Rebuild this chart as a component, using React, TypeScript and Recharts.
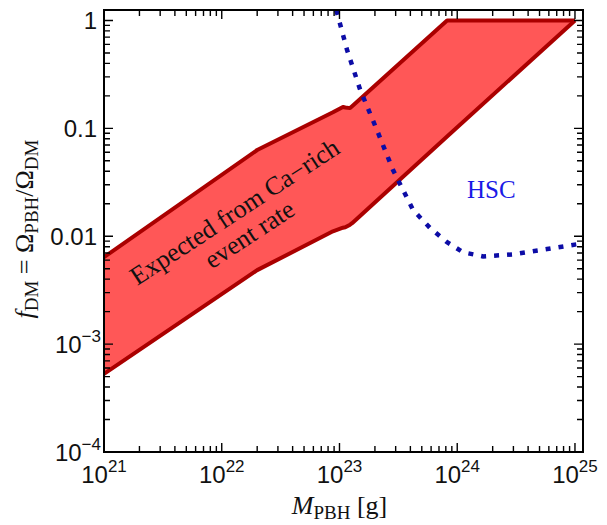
import { ComposedChart, Area, Line, Scatter, XAxis, YAxis } from 'recharts';

// expected band from the Ca-rich event rate (upper / lower edge per mass)
const bandMass = [1e21, 2.0e22, 8.8e22, 1.07e23, 1.12e23, 1.23e23, 1.28e23, 8.2e23, 1e25];
const bandUpper = [0.0064, 0.063, 0.141, 0.158, 0.156, 0.154, 0.16, 1, 1];
const bandLower = [5.3e-4, 4.85e-3, 0.0111, 0.012, 0.0121, 0.0128, 0.0132, 0.084, 1];

// HSC microlensing bound
const hscMass = [9.4e22, 1.16e23, 1.5e23, 2.08e23, 2.85e23, 4.22e23, 5.89e23, 8.2e23, 1.12e24, 1.66e24, 2.99e24, 5.8e24, 1.17e25];
const hscFrac = [1.25, 0.532, 0.227, 0.0965, 0.041, 0.0175, 0.0119, 0.0088, 0.0071, 0.0065, 0.0068, 0.0076, 0.0086];

const xMajor = [1e21, 1e22, 1e23, 1e24, 1e25];
const xMajorExp = ['21', '22', '23', '24', '25'];
const yMajor = [1e-4, 1e-3, 0.01, 0.1, 1];
const yMajorLabels = [
  { base: '10', exp: '\u22124' },
  { base: '10', exp: '\u22123' },
  { base: '0.01' },
  { base: '0.1' },
  { base: '1' },
];
const minorSteps = [2, 3, 4, 5, 6, 7, 8, 9];

const xTicks = [...xMajor, ...xMajor.slice(0, -1).flatMap((d) => minorSteps.map((k) => k * d))].sort((a, b) => a - b);
const yTicks = [...yMajor, ...yMajor.slice(0, -1).flatMap((d) => minorSteps.map((k) => k * d))].sort((a, b) => a - b);

const xDomain = [1e21, 1.17e25];
const yDomain = [1e-4, 1.25];

// annotation anchors
const bandNote = [{ m: 1.49e22, f: 0.0132 }];
const hscNote = [{ m: 1.95e24, f: 0.0226 }];

// chart box (svg px)
const W = 599;
const H = 517;
const M = { top: 2, right: 24, bottom: 0, left: 0 };
const X_AXIS_H = 73;
const Y_AXIS_W = 96;
const plot = {
  x: M.left + Y_AXIS_W,
  y: M.top,
  w: W - M.left - M.right - Y_AXIS_W,
  h: H - M.top - M.bottom - X_AXIS_H,
};

const sans = "'Liberation Sans', Arial, sans-serif";
const serif = "'Liberation Serif', 'Times New Roman', serif";

const isMajor = (list: number[], v: number) =>
  list.some((m) => Math.abs(Math.log10(v) - Math.log10(m)) < 1e-6);
const majorIndex = (list: number[], v: number) =>
  list.findIndex((m) => Math.abs(Math.log10(v) - Math.log10(m)) < 1e-6);

// tick labels (text only) rendered by the axes
function BottomLabel({ x, y, payload }: any) {
  const i = majorIndex(xMajor, payload.value);
  if (i < 0) return <g />;
  return (
    <text x={x} y={y + 31} textAnchor="middle" fontFamily={sans} fontSize={24} fill="#111">
      10<tspan fontSize={17} dy={-11}>{xMajorExp[i]}</tspan>
    </text>
  );
}

function LeftLabel({ x, y, payload }: any) {
  const i = majorIndex(yMajor, payload.value);
  if (i < 0) return <g />;
  const lab = yMajorLabels[i];
  return (
    <text x={lab.exp ? x - 3 : x - 7} y={y + 8.5} textAnchor="end" fontFamily={sans} fontSize={24} fill="#111">
      {lab.base}
      {lab.exp && <tspan fontSize={17} dy={-11}>{lab.exp}</tspan>}
    </text>
  );
}

// frame with inward ticks, laid over the chart
function Frame() {
  const lx0 = Math.log10(xDomain[0]);
  const lx1 = Math.log10(xDomain[1]);
  const ly0 = Math.log10(yDomain[0]);
  const ly1 = Math.log10(yDomain[1]);
  const px = (v: number) => plot.x + ((Math.log10(v) - lx0) / (lx1 - lx0)) * plot.w;
  const py = (v: number) => plot.y + plot.h - ((Math.log10(v) - ly0) / (ly1 - ly0)) * plot.h;
  const top = plot.y;
  const bottom = plot.y + plot.h;
  const left = plot.x;
  const right = plot.x + plot.w;
  let d = '';
  xTicks.forEach((v) => {
    const len = isMajor(xMajor, v) ? 9 : 6;
    const x = px(v);
    d += `M${x},${bottom}V${bottom - len}M${x},${top}V${top + len}`;
  });
  yTicks.forEach((v) => {
    const len = isMajor(yMajor, v) ? 9 : 6;
    const y = py(v);
    d += `M${left},${y}H${left + len}M${right},${y}H${right - len}`;
  });
  return (
    <svg
      width={W}
      height={H}
      style={{ position: 'absolute', left: 0, top: 0, pointerEvents: 'none' }}
    >
      <path d={d} stroke="#000" strokeWidth={1.4} fill="none" />
      <rect x={left} y={top} width={plot.w} height={plot.h} stroke="#000" strokeWidth={2} fill="none" />
    </svg>
  );
}

function XTitle({ viewBox }: any) {
  const cx = viewBox.x + viewBox.width / 2 - 4;
  return (
    <text x={cx} y={viewBox.y + 62} textAnchor="middle" fontFamily={serif} fontSize={26} fill="#111">
      <tspan fontStyle="italic">M</tspan>
      <tspan fontSize={19} dy={5}>PBH</tspan>
      <tspan dy={-5}> [g]</tspan>
    </text>
  );
}

function YTitle({ viewBox }: any) {
  const bx = 25;
  const cy = viewBox.y + viewBox.height / 2 - 2;
  return (
    <text
      x={bx}
      y={cy}
      transform={`rotate(-90, ${bx}, ${cy})`}
      textAnchor="middle"
      fontFamily={serif}
      fontSize={26}
      fill="#111"
    >
      <tspan fontStyle="italic">f</tspan>
      <tspan fontSize={19} dy={5}>DM</tspan>
      <tspan dy={-5}> = Ω</tspan>
      <tspan fontSize={19} dy={5}>PBH</tspan>
      <tspan dy={-5}>/Ω</tspan>
      <tspan fontSize={19} dy={5}>DM</tspan>
    </text>
  );
}

function BandNote({ cx, cy }: any) {
  return (
    <g transform={`translate(${cx},${cy}) rotate(-33.3)`} fontFamily={serif} fontSize={26} fill="#111">
      <text x={0} y={-5} textAnchor="middle">Expected from Ca{'\u2212'}rich</text>
      <text x={0} y={22} textAnchor="middle">event rate</text>
    </g>
  );
}

function HscNote({ cx, cy }: any) {
  return (
    <text x={cx} y={cy} textAnchor="middle" fontFamily={serif} fontSize={25} fill="#1a1ae6">
      HSC
    </text>
  );
}

export default function App() {
  const bandData = bandMass.map((m, i) => ({ m, range: [bandLower[i], bandUpper[i]] }));
  const hscData = hscMass.map((m, i) => ({ m, f: hscFrac[i] }));

  return (
    <div style={{ position: 'relative', width: W, height: H }}>
      <ComposedChart width={W} height={H} margin={M}>
        <XAxis
          dataKey="m"
          type="number"
          scale="log"
          domain={xDomain}
          allowDataOverflow
          ticks={xTicks}
          interval={0}
          tickSize={0}
          tickMargin={0}
          tickLine={false}
          axisLine={{ stroke: '#000', strokeWidth: 2 }}
          tick={<BottomLabel />}
          height={X_AXIS_H}
          label={{ content: (p: any) => <XTitle {...p} /> }}
        />
        <YAxis
          type="number"
          scale="log"
          domain={yDomain}
          allowDataOverflow
          ticks={yTicks}
          interval={0}
          tickSize={0}
          tickMargin={0}
          tickLine={false}
          axisLine={{ stroke: '#000', strokeWidth: 2 }}
          tick={<LeftLabel />}
          width={Y_AXIS_W}
          label={{ content: (p: any) => <YTitle {...p} /> }}
        />
        <Area
          data={bandData}
          dataKey="range"
          type="linear"
          stroke="#aa0000"
          strokeWidth={4}
          strokeLinejoin="round"
          fill="#ff5757"
          fillOpacity={1}
          isAnimationActive={false}
        />
        <Line
          data={hscData}
          dataKey="f"
          type="linear"
          stroke="#0c0ca6"
          strokeWidth={4.5}
          strokeDasharray="5 8"
          dot={false}
          activeDot={false}
          isAnimationActive={false}
        />
        <Scatter data={bandNote} dataKey="f" shape={(p: any) => <BandNote {...p} />} isAnimationActive={false} />
        <Scatter data={hscNote} dataKey="f" shape={(p: any) => <HscNote {...p} />} isAnimationActive={false} />
      </ComposedChart>
      <Frame />
    </div>
  );
}
